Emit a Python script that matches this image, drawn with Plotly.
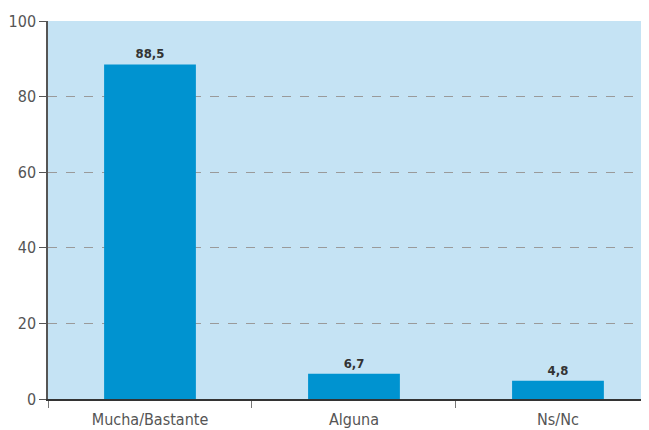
import plotly.graph_objects as go

categorias = ["Mucha/Bastante", "Alguna", "Ns/Nc"]
valores = [88.5, 6.7, 4.8]
ticks_y = [0, 20, 40, 60, 80, 100]

FUENTE = "DejaVu Sans Condensed, Liberation Sans Narrow, sans-serif"

# the page body adds an 8px margin, so the figure is sized to fit the window
fig = go.Figure()
fig.add_trace(go.Bar(
    x=categorias,
    y=valores,
    width=0.45,
    marker=dict(color="#0093d0", line=dict(width=0)),
    texttemplate="<b>%{y:.1f}</b>",
    textposition="outside",
    cliponaxis=False,
    textfont=dict(family=FUENTE, size=13, color="#333333"),
))

fig.update_layout(
    width=633, height=422,
    margin=dict(l=40, r=0, t=13, b=31, autoexpand=False),
    paper_bgcolor="white",
    plot_bgcolor="#c5e3f4",
    separators=",.",
    showlegend=False,
    font=dict(family=FUENTE, size=15, color="#555555"),
)
fig.update_xaxes(
    range=[-0.5, 2.407],
    tickson="boundaries",
    automargin=False,
    ticks="outside", ticklen=7, tickcolor="#777777",
    ticklabelstandoff=5,
    showline=True, linecolor="#333333", linewidth=1.5,
    showgrid=False,
    tickfont=dict(size=16),
)
fig.update_yaxes(
    range=[0, 100],
    tickvals=ticks_y,
    automargin=False,
    ticks="outside", ticklen=7, tickcolor="#555555",
    showline=True, linecolor="#555555", linewidth=1.5,
    showgrid=True, gridcolor="#9a9a9a", griddash="dash", gridwidth=1,
    zeroline=False,
    tickfont=dict(size=16),
)

fig.write_html("out.html")
